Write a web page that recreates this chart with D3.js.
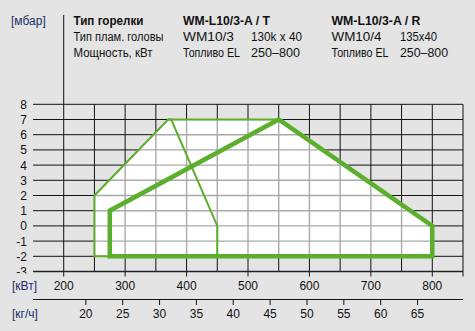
<!DOCTYPE html>
<html>
<head>
<meta charset="utf-8">
<script src="https://cdn.jsdelivr.net/npm/d3@7"></script>
<style>
  body { margin: 0; background: #e3e4e3; }
  svg { display: block; font-family: "Liberation Sans", Arial, sans-serif; }
</style>
</head>
<body>
<div id="chart"></div>
<script>
// axis ticks
var kwTicks = [200, 300, 400, 500, 600, 700, 800];
var kwGrid = [200, 250, 300, 350, 400, 450, 500, 550, 600, 650, 700, 750, 800, 850];
var kgTicks = [20, 25, 30, 35, 40, 45, 50, 55, 60, 65];
var mbarTicks = [8, 7, 6, 5, 4, 3, 2, 1, 0, -1, -2, -3];

// working fields [kW, mbar]
var fieldT = [[250, -2], [250, 2], [370, 7], [375, 7], [450, 0], [450, -2]];
var fieldTop = [[370, 7], [550, 7]];
var fieldR = [[275, -2], [275, 1], [550, 7], [800, 0], [800, -2]];
var fieldAll = [[250, -2], [250, 2], [370, 7], [550, 7], [800, 0], [800, -2]];

// header table
var header = [
  ["Тип горелки", "WM-L10/3-A / T", "", "WM-L10/3-A / R", ""],
  ["Тип плам. головы", "WM10/3", "130k x 40", "WM10/4", "135x40"],
  ["Мощность, кВт", "Топливо EL", "250–800", "Топливо EL", "250–800"]
];

var W = 475, H = 331;
var green = "#5cae2d", labelBlue = "#1e2d6b";

var svg = d3.select("#chart").append("svg")
  .attr("width", W).attr("height", H);

var x = d3.scaleLinear().domain([150, 850]).range([33, 463]);
var y = d3.scaleLinear().domain([-3, 8]).range([271.5, 104.3]);
var xKg = d3.scaleLinear().domain([20, 65]).range([x(236), x(776)]);

var line = d3.line().x(d => x(d[0])).y(d => y(d[1]));

// black grid
svg.append("g").selectAll("line")
  .data(mbarTicks.filter(d => d > -3))
  .enter().append("line")
  .attr("x1", x(150)).attr("x2", x(850))
  .attr("y1", d => y(d)).attr("y2", d => y(d))
  .attr("stroke", "#111").attr("stroke-width", 1);

svg.append("g").selectAll("line")
  .data(kwGrid)
  .enter().append("line")
  .attr("x1", d => x(d)).attr("x2", d => x(d))
  .attr("y1", d => d == 200 ? 15 : y(8))
  .attr("y2", d => (d % 100 == 0 || d == 850) ? y(-3) + 5 : y(-3))
  .attr("stroke", "#111").attr("stroke-width", 1);

// white working area
svg.append("path")
  .attr("d", line(fieldAll) + "Z")
  .attr("fill", "#fff");

svg.append("clipPath").attr("id", "area")
  .append("path").attr("d", line(fieldAll) + "Z");

// grey grid inside working area
var inner = svg.append("g").attr("clip-path", "url(#area)");
inner.selectAll(".h")
  .data(mbarTicks)
  .enter().append("line")
  .attr("x1", x(150)).attr("x2", x(850))
  .attr("y1", d => y(d)).attr("y2", d => y(d))
  .attr("stroke", "#a9a9a9").attr("stroke-width", 1.4);
inner.selectAll(".v")
  .data(kwGrid)
  .enter().append("line")
  .attr("x1", d => x(d)).attr("x2", d => x(d))
  .attr("y1", y(8)).attr("y2", y(-3))
  .attr("stroke", "#a9a9a9").attr("stroke-width", 1.4);

// bottom axis line
svg.append("line")
  .attr("x1", x(150)).attr("x2", x(850))
  .attr("y1", y(-3)).attr("y2", y(-3))
  .attr("stroke", "#222").attr("stroke-width", 1.6);

// working field outlines
svg.append("path")
  .attr("d", line(fieldT) + "Z")
  .attr("fill", "none").attr("stroke", green).attr("stroke-width", 2)
  .attr("stroke-linejoin", "miter");
svg.append("path")
  .attr("d", line(fieldTop))
  .attr("fill", "none").attr("stroke", green).attr("stroke-width", 2);
svg.append("path")
  .attr("d", line(fieldR) + "Z")
  .attr("fill", "none").attr("stroke", green).attr("stroke-width", 4.5)
  .attr("stroke-linejoin", "miter");

// y labels
svg.append("clipPath").attr("id", "ylab")
  .append("rect").attr("x", 0).attr("y", 0).attr("width", 40).attr("height", 273.5);
svg.append("g").attr("clip-path", "url(#ylab)")
  .selectAll("text")
  .data(mbarTicks)
  .enter().append("text")
  .attr("x", 27).attr("y", d => y(d) + 4.5)
  .attr("text-anchor", "end")
  .attr("font-size", 12).attr("fill", "#111")
  .text(d => d);

// kW labels
svg.append("g").selectAll("text")
  .data(kwTicks)
  .enter().append("text")
  .attr("x", d => x(d)).attr("y", 289.5)
  .attr("text-anchor", "middle")
  .attr("font-size", 12).attr("fill", "#111")
  .text(d => d);

// kg/h axis
svg.append("line")
  .attr("x1", x(150)).attr("x2", x(850))
  .attr("y1", 299.5).attr("y2", 299.5)
  .attr("stroke", "#111").attr("stroke-width", 1);
svg.append("g").selectAll("line")
  .data(kgTicks)
  .enter().append("line")
  .attr("x1", d => xKg(d)).attr("x2", d => xKg(d))
  .attr("y1", 299.5).attr("y2", 305)
  .attr("stroke", "#111").attr("stroke-width", 1);
svg.append("g").selectAll("text")
  .data(kgTicks)
  .enter().append("text")
  .attr("x", d => xKg(d)).attr("y", 317.5)
  .attr("text-anchor", "middle")
  .attr("font-size", 12).attr("fill", "#111")
  .text(d => d);

// unit labels
svg.append("text").attr("x", 11).attr("y", 25).attr("font-size", 12)
  .attr("fill", labelBlue).text("[мбар]");
svg.append("text").attr("x", 12).attr("y", 289.5).attr("font-size", 12)
  .attr("fill", labelBlue).text("[кВт]");
svg.append("text").attr("x", 12).attr("y", 317.5).attr("font-size", 12)
  .attr("fill", labelBlue).text("[кг/ч]");

// header table (cell widths fitted to the condensed original type)
var colX = [73.5, 183, 251, 331.5, 400];
var rowY = [25, 41, 56.5];
var cellW = [
  [70, 87, 0, 89, 0],
  [90, 51, 51, 50, 37],
  [79, 57, 49, 57, 48]
];
header.forEach(function(row, i) {
  row.forEach(function(t, j) {
    if (!t) return;
    svg.append("text")
      .attr("x", colX[j]).attr("y", rowY[i])
      .attr("font-size", 12)
      .attr("font-weight", (i == 0) ? "bold" : "normal")
      .attr("fill", "#111")
      .attr("textLength", cellW[i][j])
      .attr("lengthAdjust", "spacingAndGlyphs")
      .text(t);
  });
});
</script>
</body>
</html>
